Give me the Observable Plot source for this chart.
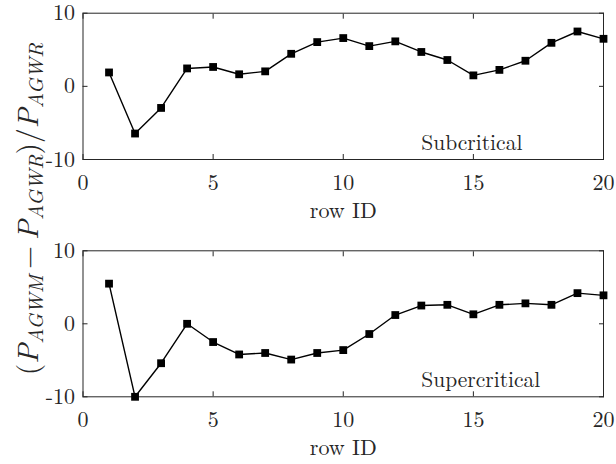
<!DOCTYPE html>
<html>
<head>
<meta charset="utf-8">
<script src="https://cdn.jsdelivr.net/npm/d3@7"></script>
<script src="https://cdn.jsdelivr.net/npm/@observablehq/plot@0.6"></script>
<style>
  html, body { margin: 0; padding: 0; background: #fff; }
  #wrap { position: relative; width: 616px; height: 464px; overflow: hidden; background: #fff; }
  #wrap svg { display: block; }
  #wrap svg text { font-family: "Latin Modern Roman", "Liberation Serif", serif; }
  #ylab {
    position: absolute; left: 27px; top: 209px;
    transform: translate(-50%, -50%) rotate(-90deg);
    white-space: nowrap; font-family: "Latin Modern Roman", "Liberation Serif", serif; font-size: 29.5px; color: #262626;
    line-height: 1;
  }
  #ylab i { font-style: italic; }
  #ylab sub { font-size: 20.5px; font-style: italic; vertical-align: -0.22em; line-height: 0; }
  #ylab .op { margin: 0 0.2em; }
</style>
</head>
<body>
<div id="wrap">
  <div id="top"></div>
  <div id="bottom"></div>
  <div id="ylab">(<i>P</i><sub>AGWM</sub><span class="op">−</span><i>P</i><sub>AGWR</sub>)/<i>P</i><sub>AGWR</sub></div>
</div>
<script>
const rowIds = [1, 2, 3, 4, 5, 6, 7, 8, 9, 10, 11, 12, 13, 14, 15, 16, 17, 18, 19, 20];
const subcritical = [1.9, -6.45, -2.95, 2.45, 2.65, 1.65, 2.05, 4.45, 6.05, 6.6, 5.5, 6.15, 4.7, 3.6, 1.5, 2.25, 3.5, 5.95, 7.5, 6.5];
const supercritical = [5.5, -10.0, -5.4, 0.0, -2.5, -4.2, -4.0, -4.9, -4.0, -3.6, -1.4, 1.2, 2.5, 2.6, 1.3, 2.6, 2.8, 2.6, 4.2, 3.9];
const xTicks = [0, 5, 10, 15, 20];
const yTicks = [-10, 0, 10];
const xLabel = "row ID";
const panelLabels = ["Subcritical", "Supercritical"];

const ink = "#262626";
const serif = "'Latin Modern Roman', 'Liberation Serif', serif";

function panel(values, name, mTop, mBottom) {
  const data = rowIds.map((id, i) => ({id, v: values[i]}));
  return Plot.plot({
    width: 616,
    height: 232,
    marginLeft: 82.5,
    marginRight: 13,
    marginTop: mTop,
    marginBottom: mBottom,
    style: {fontFamily: serif, fontSize: "22px", color: ink, background: "#fff", overflow: "visible"},
    x: {domain: [0, 20]},
    y: {domain: [-10, 10]},
    marks: [
      Plot.frame({stroke: ink, strokeWidth: 1}),
      Plot.axisX({anchor: "bottom", ticks: xTicks, tickSize: -5, tickPadding: 19.5, tickFormat: d => String(d), label: null}),
      Plot.axisX({anchor: "top", ticks: xTicks, tickSize: -5, fill: "none", label: null}),
      Plot.axisY({anchor: "left", ticks: yTicks, tickSize: -5, tickPadding: 13, tickFormat: d => String(d), label: null}),
      Plot.axisY({anchor: "right", ticks: yTicks, tickSize: -5, fill: "none", label: null}),
      Plot.line(data, {x: "id", y: "v", stroke: "#000", strokeWidth: 1.4}),
      Plot.dot(data, {x: "id", y: "v", symbol: "square", r: 4.4, fill: "#000", stroke: "none"}),
      Plot.text([name], {x: 13, y: -7.7, text: d => d, textAnchor: "start", lineAnchor: "middle", fill: ink, fontSize: 21.5, fontFamily: serif}),
      Plot.text([xLabel], {frameAnchor: "bottom", dy: 51, text: d => d, lineAnchor: "middle", fill: ink, fontSize: 22, fontFamily: serif})
    ]
  });
}

document.getElementById("top").append(panel(subcritical, panelLabels[0], 12.7, 73));
document.getElementById("bottom").append(panel(supercritical, panelLabels[1], 18.3, 67.7));
</script>
</body>
</html>
